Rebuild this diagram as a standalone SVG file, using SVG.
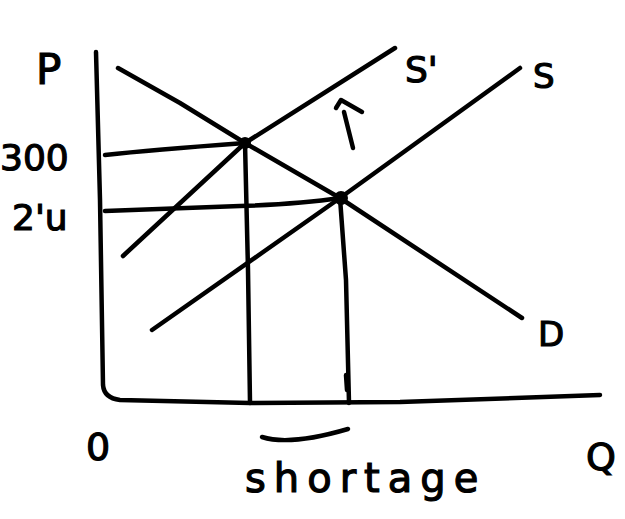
<svg xmlns="http://www.w3.org/2000/svg" width="625" height="519" viewBox="0 0 625 519">
<style>
.ln{fill:none;stroke:#000;stroke-width:4.5;stroke-linecap:round;stroke-linejoin:round}
.t{font-family:"DejaVu Sans",sans-serif;fill:#000;stroke:#000;stroke-width:1.2}
</style>
<rect width="625" height="519" fill="#fff"/>
<g id="connectors">
<path id="axes" class="ln" d="M96,52 L100,200 L103,385 Q104,398 120,400 L250,403 L400,402 L600,395"/>
<path id="demand" class="ln" d="M118,68 L180,103 L245,143 L340,198 L522,318"/>
<path id="supply-prime" class="ln" d="M123,256 L245,143 L395,48"/>
<path id="supply" class="ln" d="M152,330 L340,198 L520,68"/>
<path id="h300" class="ln" d="M105,155 Q150,150 245,143"/>
<path id="h2u" class="ln" d="M105,211 Q180,208 240,206 Q300,204 340,198"/>
<path id="v1" class="ln" d="M245,143 L248,270 L250,403"/>
<path id="v2" class="ln" d="M340,198 L346,280 L349,403"/>
<path id="tick" class="ln" d="M346,375 L347,390"/>
<path id="brace" class="ln" d="M262,437 Q290,446 348,429"/>
<path id="arrow" class="ln" d="M344,112 L353,148 M336,108 L341,100 L362,112"/>
</g>
<g id="dot-a"><circle cx="245" cy="143" r="6" fill="#000"/></g>
<g id="dot-b"><circle cx="341" cy="198" r="7" fill="#000"/></g>
<g id="labels">
<text class="t" x="36" y="84" font-size="42">P</text>
<text class="t" x="0" y="170" font-size="36">300</text>
<text class="t" x="12" y="230" font-size="36">2'u</text>
<text class="t" x="86" y="460" font-size="38">0</text>
<text class="t" x="586" y="470" font-size="38">Q</text>
<text class="t" x="405" y="82" font-size="36">S'</text>
<text class="t" x="533" y="88" font-size="34">S</text>
<text class="t" x="538" y="346" font-size="34">D</text>
<text class="t" x="245" y="492" font-size="40" letter-spacing="8">shortage</text>
</g>
</svg>
